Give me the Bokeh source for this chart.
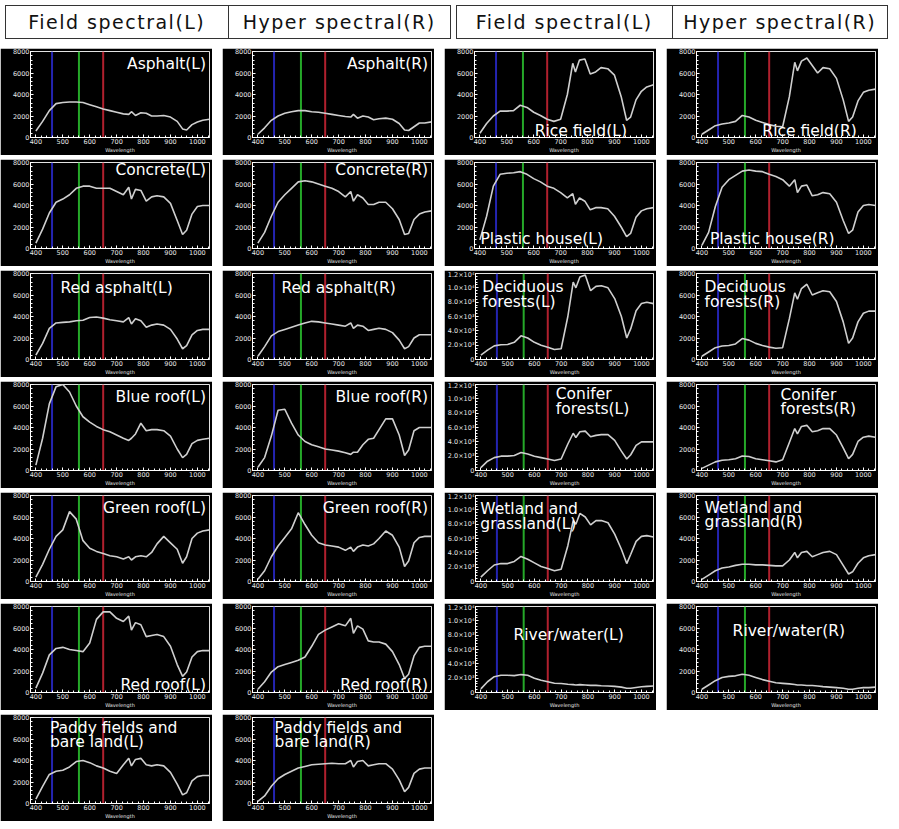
from bokeh.plotting import figure
from bokeh.models import Span, Label, FixedTicker, Div, Spacer
from bokeh.layouts import column, row
from bokeh.embed import file_html
from bokeh.resources import INLINE

# ---------------- data ----------------
WAVELENGTH = [400, 425, 450, 475, 500, 525, 550, 575, 600, 625, 650, 675, 700, 725, 745,
              755, 770, 790, 810, 830, 850, 875, 900, 925, 945, 960, 980, 1000, 1020, 1045]

ASPHALT_L = [600, 1500, 2500, 3150, 3250, 3300, 3300, 3250, 3050, 2850, 2650, 2500, 2350, 2200, 2150,
             2400, 2050, 2300, 2250, 2000, 2000, 2050, 1900, 1500, 800, 700, 1200, 1450, 1600, 1700]
ASPHALT_R = [300, 900, 1600, 2000, 2250, 2400, 2500, 2500, 2400, 2350, 2250, 2150, 2050, 1950, 1900,
             2150, 1800, 2000, 1900, 1650, 1750, 1800, 1700, 1300, 700, 650, 1000, 1350, 1350, 1450]
RICE_L = [400, 1300, 2000, 2450, 2450, 2500, 3000, 2800, 2350, 2050, 1700, 1500, 1700, 4000, 6900,
          6100, 7200, 7300, 5900, 6100, 6500, 6400, 5800, 3800, 1600, 1900, 3500, 4300, 4700, 4900]
RICE_R = [300, 700, 1100, 1250, 1350, 1500, 2050, 1900, 1600, 1400, 1200, 1050, 1000, 3800, 7000,
          6200, 7100, 7400, 6700, 6000, 6500, 6400, 5500, 3500, 1500, 1900, 3400, 4200, 4400, 4500]
CONCRETE_L = [500, 1800, 3300, 4300, 4600, 5000, 5600, 5800, 5800, 5600, 5600, 5600, 5300, 5000, 5700,
              4600, 5500, 5400, 4400, 4800, 4900, 4800, 4200, 2600, 1300, 1700, 3200, 3900, 4000, 4000]
CONCRETE_R = [500, 1500, 3000, 4300, 5000, 5600, 6200, 6300, 6200, 6000, 5800, 5600, 5300, 4800, 5300,
              4400, 5000, 4700, 4100, 4100, 4300, 4300, 3700, 2700, 1300, 1400, 2700, 3200, 3400, 3500]
PLASTIC_L = [800, 3000, 5800, 6900, 7000, 7050, 7150, 6900, 6500, 6200, 5800, 5600, 5200, 4700, 5100,
             4100, 4700, 4400, 3600, 3800, 3800, 3700, 3000, 2000, 1100, 1400, 2900, 3500, 3700, 3800]
PLASTIC_R = [300, 1500, 3900, 5700, 6400, 6800, 7200, 7300, 7200, 7150, 6900, 6700, 6400, 5800, 6400,
             5200, 5800, 5900, 4900, 5000, 5200, 5100, 4300, 2600, 1400, 1700, 3400, 4000, 4100, 4000]
RED_ASPHALT_L = [400, 1500, 2900, 3400, 3450, 3500, 3600, 3650, 3900, 3950, 3850, 3700, 3600, 3500, 3900,
                 3300, 3800, 3600, 3000, 3200, 3300, 3200, 2800, 1900, 1000, 1300, 2300, 2700, 2800, 2800]
RED_ASPHALT_R = [300, 1200, 2200, 2600, 2800, 3000, 3200, 3400, 3550, 3500, 3400, 3300, 3200, 3100, 3400,
                 2900, 3200, 3100, 2700, 2800, 2900, 2800, 2500, 1800, 1000, 1200, 2000, 2300, 2300, 2300]
DECIDUOUS_L = [600, 1300, 1900, 2050, 2100, 2400, 3300, 3000, 2400, 2000, 1700, 1400, 1500, 6000, 10800,
               10000, 11500, 11800, 9600, 10200, 10300, 10000, 8500, 6000, 3000, 4300, 6800, 7800, 8000, 7800]
DECIDUOUS_R = [300, 700, 1100, 1250, 1300, 1450, 1950, 1800, 1500, 1300, 1150, 1050, 1100, 3800, 6200,
               5600, 6600, 7000, 6000, 6200, 6400, 6300, 5400, 3500, 1500, 2000, 3500, 4300, 4500, 4500]
BLUE_ROOF_L = [500, 3000, 6200, 7800, 8000, 7300, 6000, 5000, 4500, 4100, 3800, 3600, 3300, 3000, 2800,
               3000, 3400, 4400, 3700, 3800, 3800, 3700, 3200, 2000, 1200, 1500, 2500, 2800, 2900, 3000]
BLUE_ROOF_R = [300, 1200, 3200, 5600, 5700, 4400, 3300, 2700, 2400, 2200, 2000, 1900, 1800, 1650, 1500,
               1700, 1700, 2400, 2900, 3000, 3800, 4800, 4800, 3300, 1400, 1900, 3700, 4000, 4000, 4000]
CONIFER_L = [400, 1300, 1800, 2000, 2000, 2100, 2500, 2300, 2000, 1800, 1600, 1400, 1600, 3700, 5200,
             4600, 5400, 5500, 4700, 4900, 5000, 5000, 4200, 2700, 1600, 2200, 3500, 4000, 4000, 4000]
CONIFER_R = [200, 500, 800, 950, 1000, 1100, 1350, 1300, 1100, 1000, 900, 800, 1000, 2600, 3900,
             3400, 4100, 4200, 3600, 3700, 3900, 3900, 3300, 2100, 1100, 1500, 2700, 3100, 3200, 3100]
GREEN_ROOF_L = [400, 1600, 3000, 4200, 4800, 6500, 5800, 3800, 3100, 2800, 2600, 2400, 2300, 2100, 2300,
                2000, 2300, 2400, 2300, 2700, 3500, 4200, 3600, 3000, 1700, 2300, 4000, 4500, 4700, 4800]
GREEN_ROOF_R = [200, 1000, 2300, 3300, 4100, 4900, 6400, 5300, 4300, 3600, 3400, 3300, 3200, 2900, 3200,
                2800, 3200, 3400, 3300, 3500, 4000, 4700, 4300, 3200, 1400, 1900, 3600, 4100, 4200, 4200]
WETLAND_L = [600, 1500, 2300, 2500, 2500, 2800, 3500, 3100, 2600, 2100, 1800, 1500, 1700, 5000, 8500,
             8000, 9500, 9000, 7900, 8500, 8500, 8200, 6600, 4500, 2500, 3800, 5600, 6300, 6400, 6200]
WETLAND_R = [200, 600, 1000, 1250, 1350, 1500, 1600, 1600, 1550, 1550, 1500, 1450, 1450, 2000, 2700,
             2200, 2700, 2800, 2300, 2500, 2700, 2800, 2500, 1500, 700, 900, 1700, 2200, 2400, 2500]
RED_ROOF_L = [400, 1800, 3500, 4100, 4200, 4000, 3900, 3800, 4600, 6800, 7500, 7500, 6900, 6600, 7100,
              5800, 6500, 6300, 5200, 5300, 5400, 5200, 4300, 2600, 1500, 1900, 3300, 3800, 3900, 3900]
RED_ROOF_R = [300, 1000, 1900, 2400, 2600, 2800, 3000, 3300, 4300, 5400, 5800, 6100, 6400, 6200, 6900,
              5500, 6200, 5900, 4800, 4700, 4700, 4500, 3800, 2600, 1300, 1700, 3400, 4200, 4300, 4300]
RIVER_L = [500, 1500, 2200, 2400, 2400, 2350, 2500, 2400, 2000, 1700, 1500, 1300, 1250, 1150, 1100,
           1050, 1100, 1050, 1000, 1000, 950, 900, 850, 750, 600, 600, 700, 800, 850, 900]
RIVER_R = [300, 700, 1100, 1400, 1500, 1550, 1700, 1600, 1400, 1200, 1050, 900, 850, 800, 750,
           700, 700, 650, 650, 600, 550, 500, 450, 400, 300, 300, 400, 450, 450, 500]
PADDY_L = [400, 1600, 2700, 3000, 3100, 3400, 3900, 4000, 3800, 3500, 3300, 3000, 2800, 3600, 4200,
           3500, 4100, 4200, 3600, 3500, 3600, 3500, 2900, 1800, 800, 1000, 2100, 2500, 2600, 2600]
PADDY_R = [200, 700, 1600, 2300, 2700, 3000, 3300, 3450, 3600, 3650, 3700, 3750, 3700, 3700, 4000,
           3400, 3900, 4000, 3500, 3600, 3700, 3700, 3200, 2200, 1100, 1500, 2800, 3200, 3300, 3300]

HEADERS = ["Field spectral(L)", "Hyper spectral(R)", "Field spectral(L)", "Hyper spectral(R)"]
X_TICKS = [400, 500, 600, 700, 800, 900, 1000]
Y_TICKS_8K = [0, 2000, 4000, 6000, 8000]
Y_TICKS_12K = [0, 2000, 4000, 6000, 8000, 10000, 12000]
Y_LABELS_12K = ["0", "2.0×10³", "4.0×10³", "6.0×10³", "8.0×10³", "1.0×10⁴", "1.2×10⁴"]
BANDS = [(460, "#2424b0"), (560, "#25a829"), (650, "#b0202e")]

# ---------------- layout / style ----------------
PW, PH = 212, 107
FONT = "DejaVu Sans"

# (name lines, series, ymax, label x, label y fraction, align)
PANELS = [
    [(["Asphalt(L)"], ASPHALT_L, 8000, 1032, 0.86, "right"),
     (["Asphalt(R)"], ASPHALT_R, 8000, 1032, 0.86, "right"),
     (["Rice field(L)"], RICE_L, 8000, 775, 0.08, "center"),
     (["Rice field(R)"], RICE_R, 8000, 800, 0.08, "center")],
    [(["Concrete(L)"], CONCRETE_L, 8000, 1032, 0.91, "right"),
     (["Concrete(R)"], CONCRETE_R, 8000, 1032, 0.91, "right"),
     (["Plastic house(L)"], PLASTIC_L, 8000, 402, 0.11, "left"),
     (["Plastic house(R)"], PLASTIC_R, 8000, 430, 0.11, "left")],
    [(["Red asphalt(L)"], RED_ASPHALT_L, 8000, 700, 0.83, "center"),
     (["Red asphalt(R)"], RED_ASPHALT_R, 8000, 700, 0.83, "center"),
     (["Deciduous", "forests(L)"], DECIDUOUS_L, 12000, 405, 0.84, "left"),
     (["Deciduous", "forests(R)"], DECIDUOUS_R, 8000, 410, 0.84, "left")],
    [(["Blue roof(L)"], BLUE_ROOF_L, 8000, 1032, 0.85, "right"),
     (["Blue roof(R)"], BLUE_ROOF_R, 8000, 1032, 0.85, "right"),
     (["Conifer", "forests(L)"], CONIFER_L, 12000, 680, 0.89, "left"),
     (["Conifer", "forests(R)"], CONIFER_R, 8000, 692, 0.88, "left")],
    [(["Green roof(L)"], GREEN_ROOF_L, 8000, 1032, 0.86, "right"),
     (["Green roof(R)"], GREEN_ROOF_R, 8000, 1032, 0.86, "right"),
     (["Wetland and", "grassland(L)"], WETLAND_L, 12000, 398, 0.84, "left"),
     (["Wetland and", "grassland(R)"], WETLAND_R, 8000, 410, 0.86, "left")],
    [(["Red roof(L)"], RED_ROOF_L, 8000, 1032, 0.09, "right"),
     (["Red roof(R)"], RED_ROOF_R, 8000, 1032, 0.09, "right"),
     (["River/water(L)"], RIVER_L, 12000, 728, 0.67, "center"),
     (["River/water(R)"], RIVER_R, 8000, 723, 0.71, "center")],
    [(["Paddy fields and", "bare land(L)"], PADDY_L, 8000, 452, 0.88, "left"),
     (["Paddy fields and", "bare land(R)"], PADDY_R, 8000, 462, 0.88, "left")],
]


def style_axis(ax):
    ax.axis_line_color = "white"
    ax.major_tick_line_color = "white"
    ax.minor_tick_line_color = "white"
    ax.major_tick_in = 3
    ax.major_tick_out = 0
    ax.minor_tick_in = 2
    ax.minor_tick_out = 0
    ax.major_label_standoff = 1
    ax.major_label_text_color = "#e6e6e6"
    ax.major_label_text_font = FONT
    ax.major_label_text_font_size = "6.5px"
    ax.axis_label_text_color = "#e6e6e6"
    ax.axis_label_text_font = FONT
    ax.axis_label_text_font_style = "normal"
    ax.axis_label_text_font_size = "5px"
    ax.axis_label_standoff = 0


def make_panel(lines, series, ymax, lx, ly, align):
    p = figure(width=PW, height=PH, x_range=(380, 1045), y_range=(0, ymax),
               output_backend="svg", toolbar_location=None,
               background_fill_color="black", border_fill_color="black",
               outline_line_color="white", outline_line_alpha=0.85,
               min_border_left=30, min_border_right=3, min_border_top=3, min_border_bottom=11)
    p.xgrid.visible = False
    p.ygrid.visible = False

    yt = Y_TICKS_12K if ymax > 8000 else Y_TICKS_8K
    step = yt[1] - yt[0]
    p.xaxis.ticker = FixedTicker(ticks=X_TICKS, minor_ticks=list(range(380, 1050, 20)))
    p.yaxis.ticker = FixedTicker(ticks=yt, minor_ticks=[i * step / 5 for i in range(len(yt) * 5)])
    p.xaxis.axis_label = "Wavelength"
    if ymax > 8000:
        p.yaxis.major_label_overrides = {t: s for t, s in zip(Y_TICKS_12K, Y_LABELS_12K)}
    for ax in p.xaxis + p.yaxis:
        style_axis(ax)

    for wl, col in BANDS:
        p.add_layout(Span(location=wl, dimension="height", line_color=col,
                          line_width=2, level="underlay"))
    p.line(WAVELENGTH, series, line_color="#cfcfcf", line_width=1.6)

    dy = 0.17 * ymax
    for i, t in enumerate(lines):
        p.add_layout(Label(x=lx, y=ly * ymax - i * dy, text=t, text_color="white",
                           text_font=FONT, text_font_size="15.5px",
                           text_align=align, text_baseline="middle"))
    return p


cell = ("flex:1;text-align:center;line-height:32px;height:32px;letter-spacing:1.5px;")
def table(a, b, w):
    return (f'<div style="display:flex;box-sizing:border-box;width:{w}px;height:34px;'
            f'border:1.5px solid #333;">'
            f'<div style="{cell}border-right:1.5px solid #333;">{a}</div>'
            f'<div style="{cell}">{b}</div></div>')

header = Div(text=(f'<div style="display:flex;gap:5px;font-family:\'{FONT}\';font-size:19px;'
                   f'color:#111;">' + table(HEADERS[0], HEADERS[1], 446)
                   + table(HEADERS[2], HEADERS[3], 432) + '</div>'),
             width=883, height=34)

rows = [header]
for r in PANELS:
    figs = [make_panel(*spec) for spec in r]
    while len(figs) < 4:
        figs.append(Spacer(width=PW, height=PH))
    rows.append(row(figs, spacing=10))

layout = column(rows, spacing=4)

open("out.html", "w").write(file_html(layout, INLINE))
